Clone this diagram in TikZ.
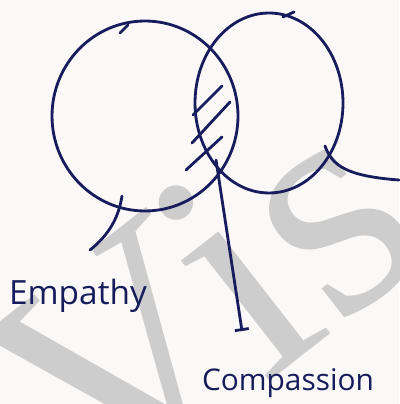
\documentclass[tikz,border=0pt]{standalone}
\usepackage{fontspec}
\usepackage{tikz}
\usetikzlibrary{shapes.geometric, arrows.meta}
\newfontfamily\handfont{Open Sans}
\newfontfamily\markfont{Liberation Serif}
\definecolor{ink}{RGB}{22,28,92}
\definecolor{paper}{RGB}{251,249,247}
\definecolor{markgrey}{RGB}{205,205,205}
\tikzstyle{venn} = [ellipse, draw=ink, line width=1.6pt, inner sep=0pt]
\tikzstyle{pen} = [draw=ink, line width=1.6pt, line cap=round]
\tikzstyle{pointer} = [pen, -{Bar[width=8pt]}]
\tikzstyle{handtext} = [text=ink, inner sep=0pt, font=\handfont\fontsize{19}{19}\selectfont]
\tikzstyle{watermark} = [text=markgrey, inner sep=0pt, font=\markfont\fontsize{185}{185}\selectfont]

\begin{document}
\begin{tikzpicture}[x=0.02cm, y=-0.02cm]
    \useasboundingbox (0,0) rectangle (399,404);
    \fill [paper] (0,0) rectangle (399,404);
    \begin{scope}
        \clip (0,0) rectangle (399,404);
        \node (mark) [watermark, rotate=38, anchor=base west] at (95,518) {Vis};
    \end{scope}

    % the two sets
    \node (empathyset) [venn, minimum width=3.72cm, minimum height=3.8cm] at (145,116) {};
    \node (compassionset) [venn, minimum width=2.96cm, minimum height=3.6cm] at (269,103) {};
    \draw [pen] (120,33) -- (128,25);
    \draw [pen] (283,17) -- (294,12);

    % overlap
    \draw [pen] (193,115) -- (222,86);
    \draw [pen] (192,143) -- (230,102);
    \draw [pen] (186,170) -- (222,137);

    % pointers
    \coordinate (empStart) at (122,196);
    \coordinate (empTip) at (90,250);
    \coordinate (compStart) at (216,160);
    \coordinate (compTip) at (242,331);
    \coordinate (tailStart) at (325,146);
    \coordinate (tailEnd) at (399,180);
    \draw [pen] (empStart) .. controls (118,222) and (105,238) .. (empTip);
    \draw [pointer] (compStart) -- (compTip);
    \draw [pen] (tailStart) .. controls (332,165) and (345,176) .. (tailEnd);

    \node (empathy) [handtext] at (78,296) {Empathy};
    \node (compassion) [handtext, font=\handfont\fontsize{17}{17}\selectfont] at (288,383) {Compassion};
\end{tikzpicture}
\end{document}
